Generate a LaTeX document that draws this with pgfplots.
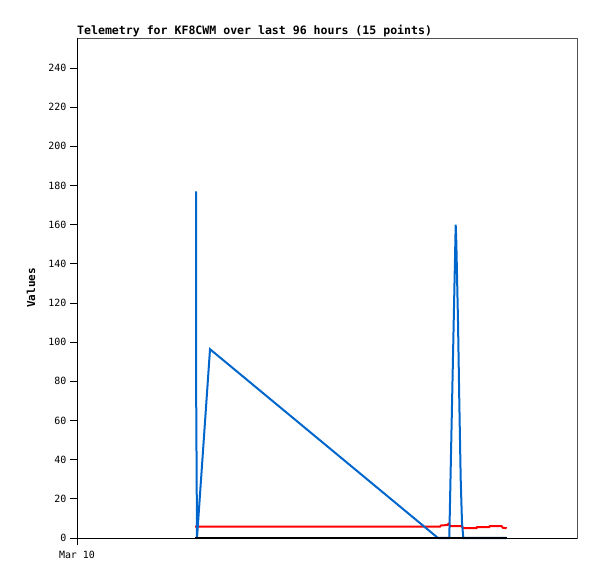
\documentclass[border=0pt]{standalone}
\usepackage{fontspec}
\setmainfont{DejaVu Sans Mono}
\usepackage{pgfplots}
\pgfplotsset{compat=1.18}
\definecolor{teleblue}{RGB}{0,102,204}
\definecolor{framegray}{RGB}{80,80,80}

\begin{document}
\begin{tikzpicture}
% page frame: 597 x 579, axis box 500 x 500 at (77,38) from top-left
\path (-77bp,-41bp) rectangle (520bp,538bp);
\begin{axis}[
    at={(0,0)}, anchor=south west,
    width=500bp, height=500bp, scale only axis,
    xmin=0, xmax=96,
    ymin=0, ymax=255.3,
    clip=false,
    ytick={0,20,...,240},
    xtick={0},
    xticklabels={Mar 10},
    xtick pos=bottom, ytick pos=left,
    tick align=outside,
    major tick length=7bp,
    tick style={black, line width=0.8bp},
    axis line style={draw=framegray, line width=0.8bp},
    /pgf/number format/assume math mode=true,
    ticklabel style={font=\fontsize{10}{12}\selectfont, text=black},
    xticklabel style={yshift=-3bp},
    ylabel={Values},
    ylabel style={at={(axis description cs:-0.092,0.5)}, anchor=center,
        rotate=0, font=\fontsize{11}{13}\selectfont\bfseries},
]
% left and bottom axis lines in black
\draw[black, line width=0.8bp] (rel axis cs:0,1) -- (rel axis cs:0,0) -- (rel axis cs:1,0);
\node[anchor=base west, inner sep=0pt, yshift=3bp,
    font=\fontsize{11.6}{13}\selectfont\bfseries]
    at (rel axis cs:0,1) {Telemetry for KF8CWM over last 96 hours (15 points)};

\addplot[red, line width=2bp] coordinates {
    (22.66,5.8) (69.70,5.8) (69.89,6.4) (71.04,6.6) (71.33,7.2)
    (71.62,6.1) (73.92,6.0) (74.11,5.0) (76.70,5.0) (76.80,5.5)
    (79.10,5.5) (79.30,6.1) (81.50,6.1) (81.79,5.2) (82.50,5.0)
};

\addplot[teleblue, line width=2bp] coordinates {
    (22.85,177) (22.85,88) (23.04,0) (25.54,96.4) (69.31,0)
    (71.48,0) (72.71,160) (72.83,151) (73.15,111) (73.40,70)
    (73.67,30) (73.92,8) (74.17,0) (82.46,0)
};

\addplot[black, line width=2.2bp] coordinates {
    (22.66,0) (82.50,0)
};
\end{axis}
\end{tikzpicture}
\end{document}
